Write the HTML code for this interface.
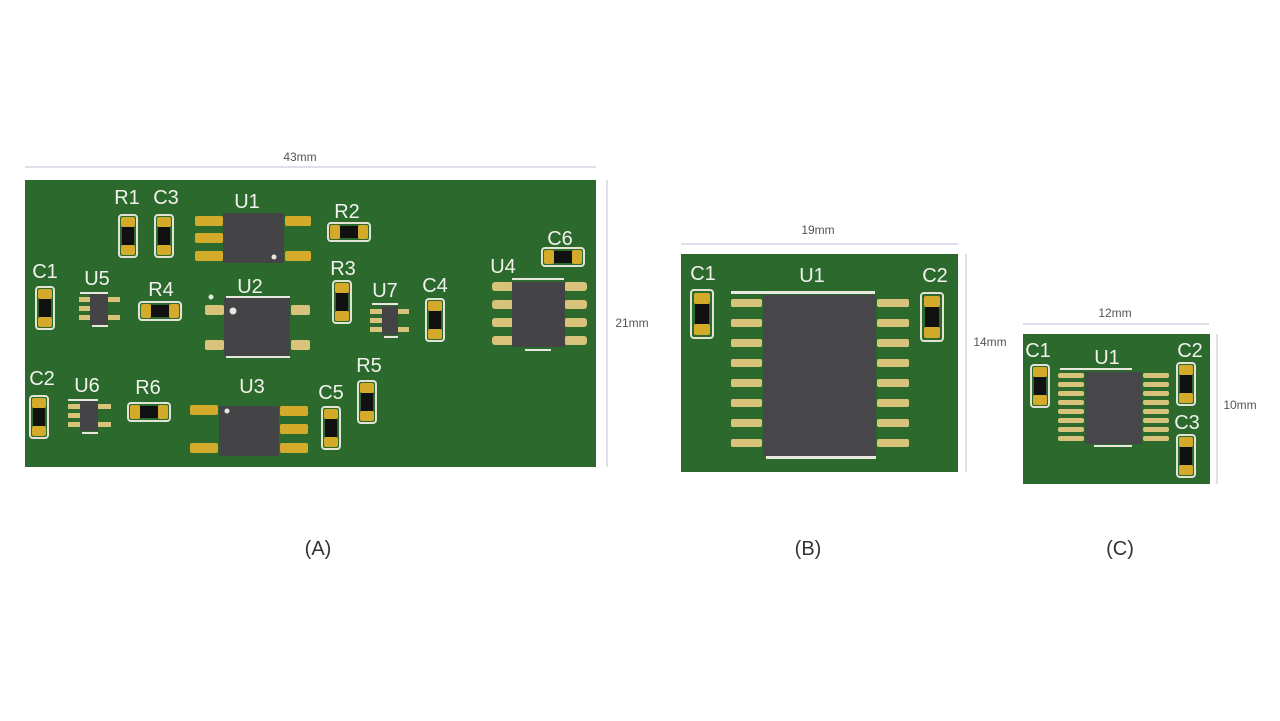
<!DOCTYPE html>
<html><head><meta charset="utf-8"><style>
html,body{margin:0;padding:0;background:#fff;width:1280px;height:721px;overflow:hidden}
svg{display:block}
text{font-family:"Liberation Sans",sans-serif}
.lbl{fill:#f2f2ee;font-size:20px;text-anchor:middle}
.dim{fill:#555;font-size:12px;text-anchor:middle}
.cap{fill:#333;font-size:20px;text-anchor:middle}
</style></head><body>
<svg width="1280" height="721" viewBox="0 0 1280 721">
<defs>
<g id="cv"><!-- vertical 20x44 centered -->
<rect x="-9" y="-21" width="18" height="42" rx="3" fill="none" stroke="#e4e4d6" stroke-width="2"/>
<rect x="-7" y="-19" width="14" height="10" rx="2" fill="#d4aa2a"/>
<rect x="-6" y="-9" width="12" height="18" fill="#111"/>
<rect x="-7" y="9" width="14" height="10" rx="2" fill="#d4aa2a"/>
</g>
<g id="ch"><use href="#cv" transform="rotate(90)"/></g>
<g id="cvb">
<rect x="-11" y="-24" width="22" height="48" rx="3" fill="none" stroke="#e4e4d6" stroke-width="2"/>
<rect x="-8" y="-21" width="16" height="11" rx="2" fill="#d4aa2a"/>
<rect x="-7" y="-10" width="14" height="20" fill="#111"/>
<rect x="-8" y="10" width="16" height="11" rx="2" fill="#d4aa2a"/>
</g>
</defs>

<!-- dimension lines -->
<g stroke="#b8c0d0" stroke-width="1">
<line x1="25" y1="167" x2="596" y2="167"/><line x1="607" y1="180" x2="607" y2="467"/>
<line x1="681" y1="244" x2="958" y2="244"/><line x1="966" y1="254" x2="966" y2="472"/>
<line x1="1023" y1="324" x2="1209" y2="324"/><line x1="1217" y1="334" x2="1217" y2="484"/>
</g>
<text x="300" y="161" class="dim" font-size="13">43mm</text>
<text x="632" y="327" class="dim" font-size="13">21mm</text>
<text x="818" y="234" class="dim" font-size="10">19mm</text>
<text x="990" y="346" class="dim" font-size="10">14mm</text>
<text x="1115" y="317" class="dim" font-size="9">12mm</text>
<text x="1240" y="409" class="dim" font-size="9">10mm</text>

<!-- Board A -->
<rect x="25" y="180" width="571" height="287" fill="#2b6a2c"/>
<g fill="#d4aa2a">
<!-- U1 pads -->
<rect x="195" y="216" width="28" height="10" rx="2"/><rect x="195" y="233" width="28" height="10" rx="2"/><rect x="195" y="251" width="28" height="10" rx="2"/>
<rect x="285" y="216" width="26" height="10" rx="2"/><rect x="285" y="251" width="26" height="10" rx="2"/>
<!-- U3 pads -->
<rect x="190" y="405" width="28" height="10" rx="2"/><rect x="190" y="443" width="28" height="10" rx="2"/>
<rect x="280" y="406" width="28" height="10" rx="2"/><rect x="280" y="424" width="28" height="10" rx="2"/><rect x="280" y="443" width="28" height="10" rx="2"/>
</g>
<g fill="#d9c27a">
<rect x="205" y="305" width="19" height="10" rx="2"/><rect x="205" y="340" width="19" height="10" rx="2"/>
<rect x="291" y="305" width="19" height="10" rx="2"/><rect x="291" y="340" width="19" height="10" rx="2"/>
<!-- U4 -->
<rect x="492" y="282" width="22" height="9" rx="3"/><rect x="492" y="300" width="22" height="9" rx="3"/><rect x="492" y="318" width="22" height="9" rx="3"/><rect x="492" y="336" width="22" height="9" rx="3"/>
<rect x="564" y="282" width="23" height="9" rx="3"/><rect x="564" y="300" width="23" height="9" rx="3"/><rect x="564" y="318" width="23" height="9" rx="3"/><rect x="564" y="336" width="23" height="9" rx="3"/>
<!-- U5 -->
<rect x="79" y="297" width="12" height="5"/><rect x="79" y="306" width="12" height="5"/><rect x="79" y="315" width="12" height="5"/>
<rect x="107" y="297" width="13" height="5"/><rect x="107" y="315" width="13" height="5"/>
<!-- U6 -->
<rect x="68" y="404" width="12" height="5"/><rect x="68" y="413" width="12" height="5"/><rect x="68" y="422" width="12" height="5"/>
<rect x="98" y="404" width="13" height="5"/><rect x="98" y="422" width="13" height="5"/>
<!-- U7 -->
<rect x="370" y="309" width="12" height="5"/><rect x="370" y="318" width="12" height="5"/><rect x="370" y="327" width="12" height="5"/>
<rect x="396" y="309" width="13" height="5"/><rect x="396" y="327" width="13" height="5"/>
</g>
<g fill="#444345">
<rect x="223" y="213" width="61" height="50"/>
<rect x="224" y="298" width="66" height="58"/>
<rect x="219" y="406" width="60" height="50"/>
<rect x="512" y="282" width="53" height="65"/>
<rect x="90" y="294" width="18" height="31"/>
<rect x="80" y="401" width="18" height="30"/>
<rect x="382" y="306" width="16" height="29"/>
</g>
<g fill="#e8e8e0">
<rect x="226" y="296" width="64" height="2"/><rect x="226" y="356" width="64" height="2"/>
<rect x="512" y="278" width="52" height="2"/><rect x="525" y="349" width="26" height="2"/>
<rect x="80" y="292" width="28" height="2"/><rect x="92" y="325" width="16" height="2"/>
<rect x="68" y="399" width="30" height="2"/><rect x="82" y="432" width="16" height="2"/>
<rect x="372" y="303" width="26" height="2"/><rect x="384" y="336" width="14" height="2"/>
<circle cx="274" cy="257" r="2.5"/><circle cx="233" cy="311" r="3.5"/><circle cx="211" cy="297" r="2.5"/><circle cx="227" cy="411" r="2.5"/>
</g>
<use href="#cv" x="128" y="236"/><use href="#cv" x="164" y="236"/>
<use href="#ch" x="349" y="232"/><use href="#cv" x="342" y="302"/>
<use href="#cv" x="435" y="320"/><use href="#ch" x="563" y="257"/>
<use href="#cv" x="45" y="308"/><use href="#ch" x="160" y="311"/>
<use href="#cv" x="39" y="417"/><use href="#ch" x="149" y="412"/>
<use href="#cv" x="331" y="428"/><use href="#cv" x="367" y="402"/>
<text class="lbl" x="127" y="204">R1</text><text class="lbl" x="166" y="204">C3</text>
<text class="lbl" x="247" y="208">U1</text><text class="lbl" x="347" y="218">R2</text>
<text class="lbl" x="45" y="278">C1</text><text class="lbl" x="97" y="285">U5</text>
<text class="lbl" x="161" y="296">R4</text><text class="lbl" x="250" y="293">U2</text>
<text class="lbl" x="343" y="275">R3</text><text class="lbl" x="385" y="297">U7</text>
<text class="lbl" x="435" y="292">C4</text><text class="lbl" x="503" y="273">U4</text>
<text class="lbl" x="560" y="245">C6</text><text class="lbl" x="42" y="385">C2</text>
<text class="lbl" x="87" y="392">U6</text><text class="lbl" x="148" y="394">R6</text>
<text class="lbl" x="252" y="393">U3</text><text class="lbl" x="331" y="399">C5</text>
<text class="lbl" x="369" y="372">R5</text>

<!-- Board B -->
<rect x="681" y="254" width="277" height="218" fill="#2b6a2c"/>
<g fill="#d9c27a">
<rect x="731" y="299" width="31" height="8" rx="2"/><rect x="731" y="319" width="31" height="8" rx="2"/><rect x="731" y="339" width="31" height="8" rx="2"/><rect x="731" y="359" width="31" height="8" rx="2"/>
<rect x="731" y="379" width="31" height="8" rx="2"/><rect x="731" y="399" width="31" height="8" rx="2"/><rect x="731" y="419" width="31" height="8" rx="2"/><rect x="731" y="439" width="31" height="8" rx="2"/>
<rect x="877" y="299" width="32" height="8" rx="2"/><rect x="877" y="319" width="32" height="8" rx="2"/><rect x="877" y="339" width="32" height="8" rx="2"/><rect x="877" y="359" width="32" height="8" rx="2"/>
<rect x="877" y="379" width="32" height="8" rx="2"/><rect x="877" y="399" width="32" height="8" rx="2"/><rect x="877" y="419" width="32" height="8" rx="2"/><rect x="877" y="439" width="32" height="8" rx="2"/>
</g>
<rect x="763" y="295" width="113" height="161" fill="#47464a"/>
<rect x="731" y="291" width="144" height="3" fill="#e8e8e0"/>
<rect x="766" y="456" width="110" height="3" fill="#e8e8e0"/>
<use href="#cvb" x="702" y="314"/><use href="#cvb" x="932" y="317"/>
<text class="lbl" x="703" y="280">C1</text><text class="lbl" x="812" y="282">U1</text><text class="lbl" x="935" y="282">C2</text>

<!-- Board C -->
<rect x="1023" y="334" width="187" height="150" fill="#2b6a2c"/>
<g fill="#d9c27a">
<rect x="1058" y="373" width="26" height="5" rx="2"/><rect x="1058" y="382" width="26" height="5" rx="2"/><rect x="1058" y="391" width="26" height="5" rx="2"/><rect x="1058" y="400" width="26" height="5" rx="2"/>
<rect x="1058" y="409" width="26" height="5" rx="2"/><rect x="1058" y="418" width="26" height="5" rx="2"/><rect x="1058" y="427" width="26" height="5" rx="2"/><rect x="1058" y="436" width="26" height="5" rx="2"/>
<rect x="1143" y="373" width="26" height="5" rx="2"/><rect x="1143" y="382" width="26" height="5" rx="2"/><rect x="1143" y="391" width="26" height="5" rx="2"/><rect x="1143" y="400" width="26" height="5" rx="2"/>
<rect x="1143" y="409" width="26" height="5" rx="2"/><rect x="1143" y="418" width="26" height="5" rx="2"/><rect x="1143" y="427" width="26" height="5" rx="2"/><rect x="1143" y="436" width="26" height="5" rx="2"/>
</g>
<rect x="1085" y="372" width="57" height="72" fill="#47464a"/>
<rect x="1060" y="368" width="72" height="2" fill="#e8e8e0"/>
<rect x="1094" y="445" width="38" height="2" fill="#e8e8e0"/>
<use href="#cv" x="1040" y="386"/><use href="#cv" x="1186" y="384"/><use href="#cv" x="1186" y="456"/>
<text class="lbl" x="1038" y="357">C1</text><text class="lbl" x="1107" y="364">U1</text>
<text class="lbl" x="1190" y="357">C2</text><text class="lbl" x="1187" y="429">C3</text>

<text class="cap" x="318" y="555">(A)</text>
<text class="cap" x="808" y="555">(B)</text>
<text class="cap" x="1120" y="555">(C)</text>
</svg>
</body></html>
